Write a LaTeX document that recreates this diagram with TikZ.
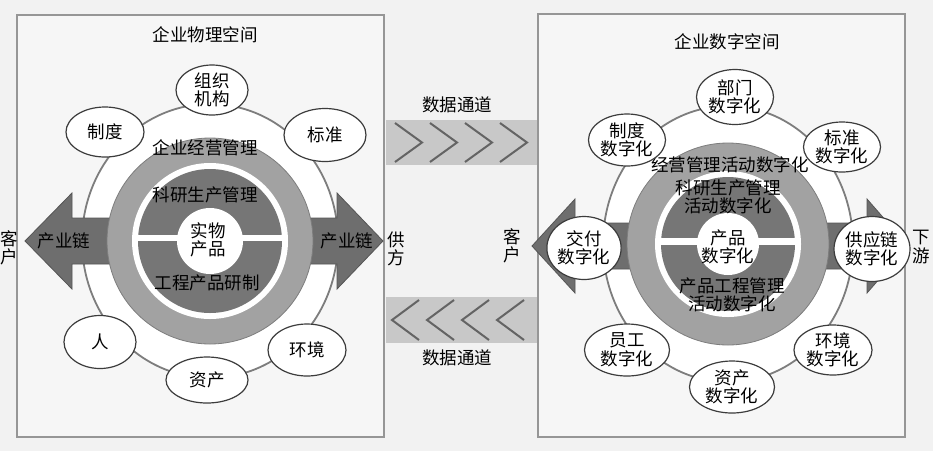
\documentclass[tikz,border=0pt]{standalone}
\usepackage{fontspec}
\newfontfamily\cjk{Noto Sans CJK SC}
\usetikzlibrary{shapes.geometric}
\definecolor{bgc}{RGB}{242,242,242}
\definecolor{boxfill}{RGB}{246,246,246}
\definecolor{boxline}{RGB}{150,150,150}
\definecolor{bandc}{RGB}{200,200,200}
\definecolor{chev}{RGB}{100,100,100}
\definecolor{ringline}{RGB}{125,125,125}
\definecolor{ringmid}{RGB}{162,162,162}
\definecolor{ringdark}{RGB}{118,118,118}
\definecolor{arrowc}{RGB}{110,110,110}
\definecolor{arrowline}{RGB}{85,85,85}
\definecolor{satline}{RGB}{60,60,60}
\begin{document}
\begin{tikzpicture}[x=1pt,y=-1pt,
  lbl/.style={font=\cjk\fontsize{17.5}{18.5}\selectfont, text=black, align=center, inner sep=0pt},
  sat/.style={ellipse, draw=satline, fill=white, line width=1.2pt, inner sep=0pt,
              font=\cjk\fontsize{17.5}{18.5}\selectfont, align=center},
  chevline/.style={draw=chev, line width=2pt},
  spacebox/.style={draw=boxline, line width=2.4pt, fill=boxfill},
  thinring/.style={draw=ringline, line width=1.8pt, fill=white},
  bigarrow/.style={fill=arrowc, draw=arrowline, line width=0.8pt, line join=miter}
]
\useasboundingbox (0,0) rectangle (933,451);
\fill[bgc] (0,0) rectangle (933,451);

% boxes
\draw[spacebox] (17,15) rectangle (384,437);
\draw[spacebox] (538,14) rectangle (905,437);

% data bands
\fill[bandc] (385.5,120) rectangle (536.5,165);
\fill[bandc] (385.5,297) rectangle (536.5,343);
\foreach \x in {395,430,465,500} {
  \draw[chevline] (\x,123) -- (\x+27,142.5) -- (\x,162);
}
\foreach \x in {419,454,489,524} {
  \draw[chevline] (\x,300) -- (\x-27,320) -- (\x,340);
}
\node[lbl] (dt1) at (457,105) {数据通道};
\node[lbl] (dt2) at (457,358) {数据通道};

% ===== left: physical space =====
\coordinate (c1) at (210,241);
\draw[thinring] (c1) ellipse [x radius=128pt, y radius=137pt];
\filldraw[bigarrow] (25,241) -- (72,193) -- (72,218) -- (337,218) -- (337,193) -- (383,241)
  -- (337,289) -- (337,264) -- (72,264) -- (72,289) -- cycle;
\filldraw[fill=ringmid, draw=ringline, line width=0.8pt] (c1) circle[radius=103pt];
\fill[white] (c1) circle[radius=78pt];
\fill[ringdark] (c1) circle[radius=72pt];
\fill[white] (136,235) rectangle (284,241);
\fill[white] (c1) circle[radius=33pt];

\node[lbl] (title1) at (205,35) {企业物理空间};
\node[lbl] (m1) at (205,148) {企业经营管理};
\node[lbl] (r1) at (205,195) {科研生产管理};
\node[lbl] (p1) at (208,240) {实物\\产品};
\node[lbl] (e1) at (207,283) {工程产品研制};
\node[lbl] (al1) at (64,241) {产业链};
\node[lbl] (ar1) at (347,241) {产业链};
\node[lbl] (kh1) at (9,248) {客\\户};
\node[lbl] (gf1) at (396,249) {供\\方};

\node[sat, minimum width=72pt, minimum height=50pt] (zz) at (212,90) {组织\\机构};
\node[sat, minimum width=78pt, minimum height=50pt] (zd) at (105,132) {制度};
\node[sat, minimum width=82pt, minimum height=53pt] (bz) at (325,135) {标准};
\node[sat, minimum width=72pt, minimum height=53pt] (ren) at (100,342) {人};
\node[sat, minimum width=82pt, minimum height=46pt] (zc) at (207,380) {资产};
\node[sat, minimum width=78pt, minimum height=52pt] (hj) at (307,350) {环境};

% ===== right: digital space =====
\coordinate (c2) at (728,244);
\draw[thinring] (c2) ellipse [x radius=125pt, y radius=138pt];
\filldraw[bigarrow] (532,246) -- (575,199) -- (575,223) -- (867,223) -- (867,199) -- (908,246)
  -- (867,293) -- (867,269) -- (575,269) -- (575,293) -- cycle;
\filldraw[fill=ringmid, draw=ringline, line width=0.8pt] (c2) circle[radius=101pt];
\fill[white] (c2) circle[radius=73pt];
\fill[ringdark] (c2) circle[radius=67pt];
\fill[white] (660,237.5) rectangle (796,244.5);
\fill[white] (c2) circle[radius=31pt];

\node[lbl] (title2) at (727,42) {企业数字空间};
\node[lbl] (m2) at (730,165) {经营管理活动数字化};
\node[lbl] (r2) at (728,197) {科研生产管理\\活动数字化};
\node[lbl] (p2) at (728,247) {产品\\数字化};
\node[lbl] (e2) at (732,295) {产品工程管理\\活动数字化};
\node[lbl] (kh2) at (512,246) {客\\户};
\node[lbl] (xy2) at (921,247) {下\\游};

\node[sat, minimum width=77pt, minimum height=55pt] (bm) at (735,97) {部门\\数字化};
\node[sat, minimum width=77pt, minimum height=52pt] (zd2) at (627,140) {制度\\数字化};
\node[sat, minimum width=77pt, minimum height=50pt] (bz2) at (842,147) {标准\\数字化};
\node[sat, minimum width=85pt, minimum height=52pt] (yg) at (627,350) {员工\\数字化};
\node[sat, minimum width=85pt, minimum height=52pt] (zc2) at (732,387) {资产\\数字化};
\node[sat, minimum width=78pt, minimum height=50pt] (hj2) at (833,350) {环境\\数字化};
\node[sat, minimum width=72pt, minimum height=63pt] (jf) at (584,248) {交付\\数字化};
\node[sat, minimum width=76pt, minimum height=65pt] (gyl) at (872,249) {供应链\\数字化};
\end{tikzpicture}
\end{document}
